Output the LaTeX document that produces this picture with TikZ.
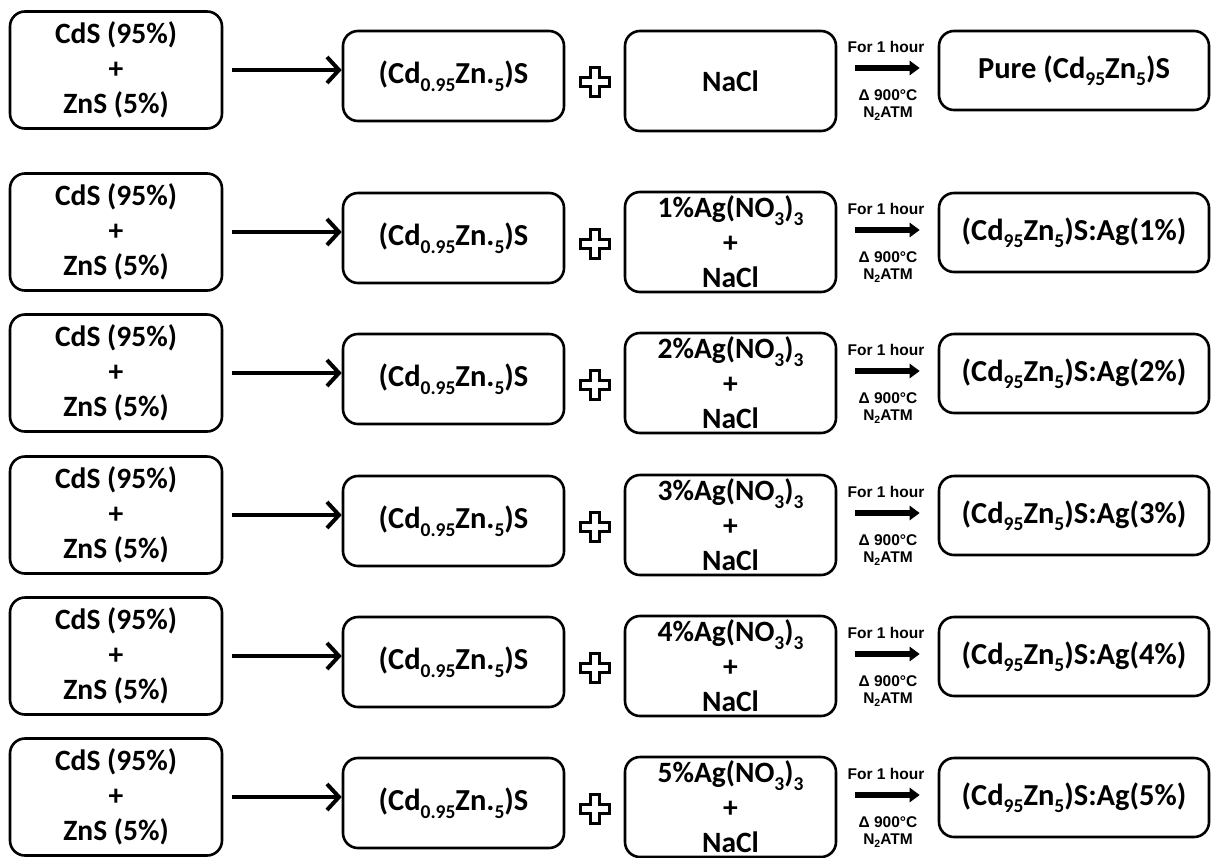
\documentclass[tikz,border=0pt]{standalone}
\usepackage{fontspec}
\setmainfont{Carlito}
\newfontfamily\labfont{Liberation Sans}
\usetikzlibrary{arrows.meta}
% chemical subscripts in the box texts and in the small process labels
\newcommand\chsub[1]{\raisebox{-7.5pt}{\fontsize{19.5}{19.5}\selectfont #1}}
\newcommand\labsub[1]{\raisebox{-3pt}{\fontsize{10.5}{10.5}\selectfont #1}}
\tikzset{
  box/.style={draw, line width=2.6pt, rounded corners=15pt, inner sep=0pt,
    align=center, font=\bfseries\fontsize{29.5}{35}\selectfont},
  bigtext/.style={font=\bfseries\fontsize{30.5}{35}\selectfont},
  srcbox/.style={box, minimum width=212pt, minimum height=117pt},
  mixbox/.style={box, bigtext, minimum width=221pt, minimum height=90pt},
  saltbox/.style={box, minimum width=211pt, minimum height=100pt},
  prodbox/.style={box, bigtext, minimum width=270pt, minimum height=79pt},
  mainarrow/.style={line width=4.2pt, -{Straight Barb[length=12pt, width=26pt, line width=4pt]}},
  heatarrow/.style={line width=5.5pt, -{Triangle[length=10pt, width=14pt]}},
  lab/.style={inner sep=0pt, font=\labfont\bfseries\fontsize{15.5}{16}\selectfont},
  pluscross/.pic={
    \draw[line width=2.8pt, line join=miter]
      (-4.5,-14.5) -- (4.5,-14.5) -- (4.5,-4.5) -- (14.5,-4.5) -- (14.5,4.5)
      -- (4.5,4.5) -- (4.5,14.5) -- (-4.5,14.5) -- (-4.5,4.5) -- (-14.5,4.5)
      -- (-14.5,-4.5) -- (-4.5,-4.5) -- cycle;
  }
}
\begin{document}
\begin{tikzpicture}[x=1pt, y=-1pt]
\fill[white] (0,0) rectangle (1214,857);
\useasboundingbox (0,0) rectangle (1214,857);

\foreach \r/\T/\p in {1/10/0, 2/172/1, 3/313/2, 4/455/3, 5/596/4, 6/737/5}{
  % starting mixture
  \node[srcbox] (L\r) at (116,\T+60) {CdS (95\%)\\+\\ZnS (5\%)};
  % solid solution
  \node[mixbox] (M\r) at (453.5,\T+66) {(Cd\chsub{0.95}Zn.\chsub{5})S};
  \pic at (595,\T+72) {pluscross};
  \ifnum\r=1
    \node[saltbox] (S\r) at (730.5,\T+71) {NaCl};
    \node[prodbox] (P\r) at (1074,\T+60.5) {Pure (Cd\chsub{95}Zn\chsub{5})S};
  \else
    \node[saltbox] (S\r) at (730.5,\T+70) {\p\%Ag(NO\chsub{3})\chsub{3}\\+\\NaCl};
    \node[prodbox] (P\r) at (1074,\T+60.5) {(Cd\chsub{95}Zn\chsub{5})S:Ag(\p\%)};
  \fi
  % mixing step
  \draw[mainarrow, shorten <=9pt] (L\r.east) -- (L\r.east -| M\r.west);
  % firing step
  \coordinate (h\r) at (887,\T+58);
  \draw[heatarrow, shorten <=18pt, shorten >=18pt] (h\r -| S\r.east) -- (h\r -| P\r.west);
  \node[lab] (f\r) at (886,\T+37) {For 1 hour};
  \node[lab] (d\r) at (888,\T+85) {Δ 900°C};
  \node[lab] (n\r) at (888,\T+104) {N\labsub{2}ATM};
}
\end{tikzpicture}
\end{document}
